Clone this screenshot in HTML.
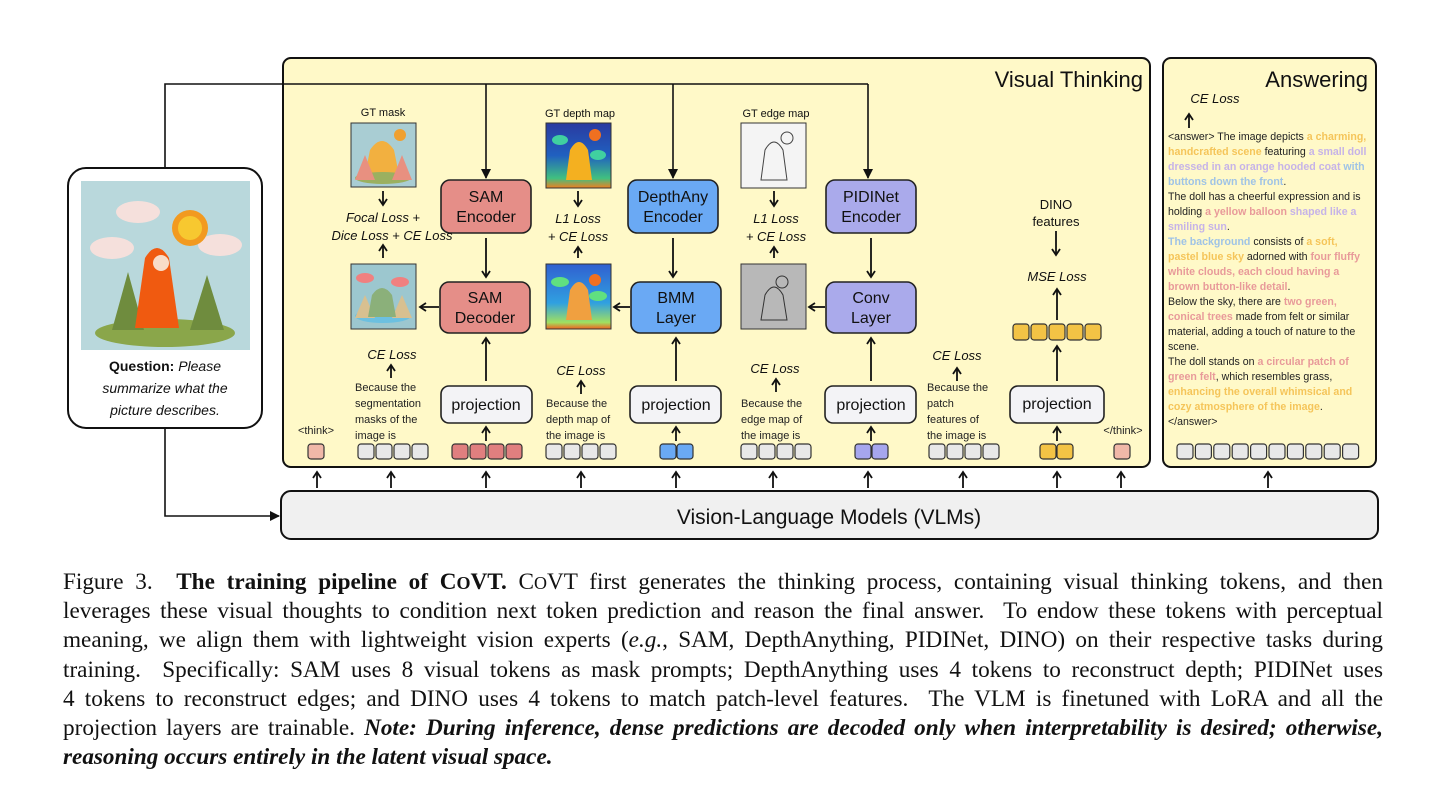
<!DOCTYPE html>
<html><head><meta charset="utf-8"><style>
body{margin:0;background:#fff;width:1434px;height:811px;overflow:hidden;position:relative;font-family:"Liberation Sans",sans-serif}
svg{position:absolute;left:0;top:0}
.cap{position:absolute;left:63px;width:1320px;top:568px;font-family:"Liberation Serif",serif;font-size:23.2px;line-height:29.2px;color:#111}
.cap div{text-align:justify;text-align-last:justify;height:29.2px;overflow:visible;white-space:normal}
.cap div.l{text-align-last:left}
</style></head><body>
<svg width="1434" height="560" viewBox="0 0 1434 560" font-family="Liberation Sans, sans-serif">
<defs>
<marker id="a" markerWidth="10" markerHeight="10" refX="7" refY="5" orient="auto" markerUnits="userSpaceOnUse"><path d="M1,1 L7,5 L1,9" fill="none" stroke="#111" stroke-width="1.8"/></marker>
<marker id="f" markerWidth="10" markerHeight="10" refX="9" refY="5" orient="auto" markerUnits="userSpaceOnUse"><path d="M0,0 L10,5 L0,10 z" fill="#111"/></marker>
<linearGradient id="dp" x1="0" y1="0" x2="0" y2="1"><stop offset="0" stop-color="#2a3aa0"/><stop offset=".5" stop-color="#2060c0"/><stop offset=".85" stop-color="#40c080"/><stop offset="1" stop-color="#f08020"/></linearGradient>
<linearGradient id="dp2" x1="0" y1="0" x2="0" y2="1"><stop offset="0" stop-color="#3060d0"/><stop offset=".6" stop-color="#30a0e0"/><stop offset=".9" stop-color="#a0e060"/><stop offset="1" stop-color="#f06020"/></linearGradient>
</defs>
<rect x="283" y="58" width="867" height="409" rx="8" fill="#fff9c8" stroke="#111" stroke-width="2"/>
<rect x="1163" y="58" width="213" height="409" rx="8" fill="#fff9c8" stroke="#111" stroke-width="2"/>
<rect x="281" y="491" width="1097" height="48" rx="10" fill="#f0f0f0" stroke="#111" stroke-width="2"/>
<text x="829" y="524" font-size="21" text-anchor="middle" fill="#111">Vision-Language Models (VLMs)</text>
<text x="1143" y="87" font-size="22" text-anchor="end" fill="#111">Visual Thinking</text>
<text x="1368" y="87" font-size="22" text-anchor="end" fill="#111">Answering</text>
<rect x="68" y="168" width="194" height="260" rx="18" fill="#fff" stroke="#111" stroke-width="2"/>
<rect x="81" y="181" width="169" height="169" fill="#b9d8dc"/>
<ellipse cx="165" cy="333" rx="70" ry="14" fill="#8aa64a"/>
<polygon points="112,330 128,272 144,330" fill="#6f8c3e"/>
<polygon points="190,330 207,275 224,330" fill="#6f8c3e"/>
<ellipse cx="138" cy="212" rx="22" ry="11" fill="#f5e0dc"/>
<ellipse cx="112" cy="248" rx="22" ry="11" fill="#f5e0dc"/>
<ellipse cx="220" cy="245" rx="22" ry="11" fill="#f5e0dc"/>
<circle cx="190" cy="228" r="18" fill="#f29a20"/><circle cx="190" cy="228" r="12" fill="#f7c830"/>
<path d="M145,258 q12,-20 24,0 l10,70 h-44 z" fill="#f05a10"/>
<circle cx="161" cy="263" r="8" fill="#f8dcc8"/>
<text x="165" y="371" font-size="14" text-anchor="middle" font-style="italic" fill="#111"><tspan font-weight="bold" font-style="normal">Question:</tspan> Please</text>
<text x="165" y="393" font-size="14" text-anchor="middle" font-style="italic" fill="#111">summarize what the</text>
<text x="165" y="415" font-size="14" text-anchor="middle" font-style="italic" fill="#111">picture describes.</text>
<path d="M165,168 V84 H868" fill="none" stroke="#111" stroke-width="1.6"/>
<path d="M486,84 V178" stroke="#111" stroke-width="1.6" marker-end="url(#f)"/>
<path d="M673,84 V178" stroke="#111" stroke-width="1.6" marker-end="url(#f)"/>
<path d="M868,84 V178" stroke="#111" stroke-width="1.6" marker-end="url(#f)"/>
<path d="M165,428 V516 H279" fill="none" stroke="#111" stroke-width="1.6" marker-end="url(#f)"/>
<g stroke="#222" stroke-width="1.6" font-size="16" text-anchor="middle" fill="#111">
<rect x="441" y="180" width="90" height="53" rx="9" fill="#e58e88"/>
<rect x="440" y="282" width="90" height="51" rx="9" fill="#e58e88"/>
<rect x="628" y="180" width="90" height="53" rx="9" fill="#6aa9f4"/>
<rect x="631" y="282" width="90" height="51" rx="9" fill="#6aa9f4"/>
<rect x="826" y="180" width="90" height="53" rx="9" fill="#aaaaeb"/>
<rect x="826" y="282" width="90" height="51" rx="9" fill="#aaaaeb"/>
<rect x="441" y="386" width="91" height="37" rx="8" fill="#f3f3f6"/>
<rect x="630" y="386" width="91" height="37" rx="8" fill="#f3f3f6"/>
<rect x="825" y="386" width="91" height="37" rx="8" fill="#f3f3f6"/>
<rect x="1010" y="386" width="94" height="37" rx="8" fill="#f3f3f6"/>
</g>
<g font-size="16" text-anchor="middle" fill="#111">
<text x="486" y="202">SAM</text><text x="486" y="222">Encoder</text>
<text x="485" y="303">SAM</text><text x="485" y="323">Decoder</text>
<text x="673" y="202">DepthAny</text><text x="673" y="222">Encoder</text>
<text x="676" y="303">BMM</text><text x="676" y="323">Layer</text>
<text x="871" y="202">PIDINet</text><text x="871" y="222">Encoder</text>
<text x="871" y="303">Conv</text><text x="871" y="323">Layer</text>
<text x="486" y="410">projection</text><text x="676" y="410">projection</text>
<text x="871" y="410">projection</text><text x="1057" y="409">projection</text>
</g>
<g stroke="#333" stroke-width="1">
<rect x="351" y="123" width="65" height="64" fill="#a9cdd3"/>
<rect x="351" y="264" width="65" height="65" fill="#9cc7cf"/>
<rect x="546" y="123" width="65" height="65" fill="url(#dp)"/>
<rect x="546" y="264" width="65" height="65" fill="url(#dp2)"/>
<rect x="741" y="123" width="65" height="65" fill="#f4f4f4"/>
<rect x="741" y="264" width="65" height="65" fill="#b8b8b8"/>
</g>
<g>
<path d="M370,150 q12,-18 24,0 l6,30 h-36 z" fill="#f2b040"/><ellipse cx="383" cy="178" rx="28" ry="6" fill="#9bb060"/>
<polygon points="355,180 365,155 375,180" fill="#e89080"/><polygon points="392,180 402,155 412,180" fill="#e89080"/>
<circle cx="400" cy="135" r="6" fill="#f0a030"/>
<ellipse cx="383" cy="316" rx="28" ry="7" fill="#6cc0e0"/>
<polygon points="355,318 365,295 375,318" fill="#d8c090"/><polygon points="392,318 402,295 412,318" fill="#d8c090"/>
<ellipse cx="365" cy="278" rx="9" ry="5" fill="#f08080"/><ellipse cx="400" cy="282" rx="9" ry="5" fill="#f08080"/>
<path d="M372,295 q10,-14 20,0 l4,22 h-28 z" fill="#8bb07a"/>
<path d="M570,150 q9,-16 18,0 l4,30 h-26 z" fill="#f4b020"/><circle cx="595" cy="135" r="6" fill="#f07020"/>
<ellipse cx="560" cy="140" rx="8" ry="5" fill="#40d0a0"/><ellipse cx="598" cy="155" rx="8" ry="5" fill="#40d0a0"/>
<path d="M570,290 q9,-16 18,0 l4,30 h-26 z" fill="#f0a040"/><circle cx="595" cy="280" r="6" fill="#f07020"/>
<ellipse cx="560" cy="282" rx="9" ry="5" fill="#60e080"/><ellipse cx="598" cy="296" rx="9" ry="5" fill="#60e080"/>
<path d="M765,150 q9,-16 18,0 l4,30 h-26 z" fill="none" stroke="#444"/><circle cx="787" cy="138" r="6" fill="none" stroke="#444"/>
<path d="M765,295 q9,-16 18,0 l4,25 h-26 z" fill="none" stroke="#333"/><circle cx="782" cy="282" r="6" fill="none" stroke="#333"/>
</g>
<g font-size="11" text-anchor="middle" fill="#111">
<text x="383" y="116">GT mask</text><text x="580" y="117">GT depth map</text><text x="776" y="117">GT  edge map</text>
</g>
<g stroke="#111" stroke-width="1.8" marker-end="url(#a)">
<path d="M383,191 V205"/><path d="M383,258 V245"/>
<path d="M578,191 V206"/><path d="M578,258 V247"/>
<path d="M774,191 V206"/><path d="M774,258 V247"/>
<path d="M486,238 V277"/><path d="M673,238 V277"/><path d="M871,238 V277"/>
<path d="M439,307 H420"/><path d="M630,307 H614"/><path d="M825,307 H809"/>
<path d="M486,381 V338"/><path d="M676,381 V338"/><path d="M871,381 V338"/>
<path d="M486,441 V427"/><path d="M676,441 V427"/><path d="M871,441 V427"/><path d="M1057,441 V427"/>
<path d="M1057,381 V346"/><path d="M1057,320 V289"/><path d="M1056,231 V255"/>
<path d="M391,378 V365"/><path d="M581,394 V381"/><path d="M776,392 V379"/><path d="M957,381 V368"/>
<path d="M1189,128 V114"/>
<path d="M317,488 V472"/><path d="M391,488 V472"/><path d="M486,488 V472"/><path d="M581,488 V472"/><path d="M676,488 V472"/><path d="M773,488 V472"/><path d="M868,488 V472"/><path d="M963,488 V472"/><path d="M1057,488 V472"/><path d="M1121,488 V472"/><path d="M1268,488 V472"/>
</g>
<g font-size="13" font-style="italic" text-anchor="middle" fill="#111">
<text x="383" y="222">Focal Loss +</text><text x="392" y="240">Dice Loss + CE Loss</text>
<text x="578" y="223">L1 Loss</text><text x="578" y="241">+ CE Loss</text>
<text x="776" y="223">L1 Loss</text><text x="776" y="241">+ CE Loss</text>
<text x="392" y="359">CE Loss</text><text x="581" y="375">CE Loss</text><text x="775" y="373">CE Loss</text><text x="957" y="360">CE Loss</text>
<text x="1057" y="281">MSE Loss</text><text x="1215" y="103">CE Loss</text>
</g>
<g font-size="13" text-anchor="middle" fill="#111"><text x="1056" y="209">DINO</text><text x="1056" y="226">features</text></g>
<g font-size="11" fill="#222">
<text x="355" y="391">Because the</text><text x="355" y="407">segmentation</text><text x="355" y="423">masks of the</text><text x="355" y="439">image is</text>
<text x="546" y="407">Because the</text><text x="546" y="423">depth map of</text><text x="546" y="439">the image is</text>
<text x="741" y="407">Because the</text><text x="741" y="423">edge map of</text><text x="741" y="439">the image is</text>
<text x="927" y="391">Because the</text><text x="927" y="407">patch</text><text x="927" y="423">features of</text><text x="927" y="439">the image is</text>
<text x="316" y="434" text-anchor="middle">&lt;think&gt;</text><text x="1123" y="434" text-anchor="middle">&lt;/think&gt;</text>
</g>
<g stroke="#333" stroke-width="1.2">
<rect x="308" y="444" width="16" height="15" rx="3" fill="#f0b8a8"/>
<rect x="358" y="444" width="16" height="15" rx="3" fill="#e8e8e8"/><rect x="376" y="444" width="16" height="15" rx="3" fill="#e8e8e8"/><rect x="394" y="444" width="16" height="15" rx="3" fill="#e8e8e8"/><rect x="412" y="444" width="16" height="15" rx="3" fill="#e8e8e8"/>
<rect x="452" y="444" width="16" height="15" rx="3" fill="#e07f7f"/><rect x="470" y="444" width="16" height="15" rx="3" fill="#e07f7f"/><rect x="488" y="444" width="16" height="15" rx="3" fill="#e07f7f"/><rect x="506" y="444" width="16" height="15" rx="3" fill="#e07f7f"/>
<rect x="546" y="444" width="16" height="15" rx="3" fill="#e8e8e8"/><rect x="564" y="444" width="16" height="15" rx="3" fill="#e8e8e8"/><rect x="582" y="444" width="16" height="15" rx="3" fill="#e8e8e8"/><rect x="600" y="444" width="16" height="15" rx="3" fill="#e8e8e8"/>
<rect x="660" y="444" width="16" height="15" rx="3" fill="#6aa9f4"/><rect x="677" y="444" width="16" height="15" rx="3" fill="#6aa9f4"/>
<rect x="741" y="444" width="16" height="15" rx="3" fill="#e8e8e8"/><rect x="759" y="444" width="16" height="15" rx="3" fill="#e8e8e8"/><rect x="777" y="444" width="16" height="15" rx="3" fill="#e8e8e8"/><rect x="795" y="444" width="16" height="15" rx="3" fill="#e8e8e8"/>
<rect x="855" y="444" width="16" height="15" rx="3" fill="#a6a6ee"/><rect x="872" y="444" width="16" height="15" rx="3" fill="#a6a6ee"/>
<rect x="929" y="444" width="16" height="15" rx="3" fill="#e8e8e8"/><rect x="947" y="444" width="16" height="15" rx="3" fill="#e8e8e8"/><rect x="965" y="444" width="16" height="15" rx="3" fill="#e8e8e8"/><rect x="983" y="444" width="16" height="15" rx="3" fill="#e8e8e8"/>
<rect x="1040" y="444" width="16" height="15" rx="3" fill="#f3c345"/><rect x="1057" y="444" width="16" height="15" rx="3" fill="#f3c345"/>
<rect x="1114" y="444" width="16" height="15" rx="3" fill="#f0b8a8"/>
<rect x="1013" y="324" width="16" height="16" rx="3" fill="#f3c345"/><rect x="1031" y="324" width="16" height="16" rx="3" fill="#f3c345"/><rect x="1049" y="324" width="16" height="16" rx="3" fill="#f3c345"/><rect x="1067" y="324" width="16" height="16" rx="3" fill="#f3c345"/><rect x="1085" y="324" width="16" height="16" rx="3" fill="#f3c345"/>
<rect x="1177" y="444" width="16" height="15" rx="3" fill="#e8e8e8"/><rect x="1195.4" y="444" width="16" height="15" rx="3" fill="#e8e8e8"/><rect x="1213.8" y="444" width="16" height="15" rx="3" fill="#e8e8e8"/><rect x="1232.2" y="444" width="16" height="15" rx="3" fill="#e8e8e8"/><rect x="1250.6" y="444" width="16" height="15" rx="3" fill="#e8e8e8"/><rect x="1269" y="444" width="16" height="15" rx="3" fill="#e8e8e8"/><rect x="1287.4" y="444" width="16" height="15" rx="3" fill="#e8e8e8"/><rect x="1305.8" y="444" width="16" height="15" rx="3" fill="#e8e8e8"/><rect x="1324.2" y="444" width="16" height="15" rx="3" fill="#e8e8e8"/><rect x="1342.6" y="444" width="16" height="15" rx="3" fill="#e8e8e8"/>
</g>
<g font-size="10.6" fill="#222">
<text x="1168" y="140">&lt;answer&gt; The image depicts <tspan fill="#f5c55a" font-weight="bold">a charming,</tspan></text>
<text x="1168" y="155"><tspan fill="#f5c55a" font-weight="bold">handcrafted scene</tspan> featuring <tspan fill="#c6b3e8" font-weight="bold">a small doll</tspan></text>
<text x="1168" y="170"><tspan fill="#c6b3e8" font-weight="bold">dressed in an orange hooded coat</tspan><tspan fill="#9fc3e6" font-weight="bold"> with</tspan></text>
<text x="1168" y="185"><tspan fill="#9fc3e6" font-weight="bold">buttons down the front</tspan>.</text>
<text x="1168" y="200">The doll has a cheerful expression and is</text>
<text x="1168" y="215">holding <tspan fill="#e89a9a" font-weight="bold">a yellow balloon</tspan><tspan fill="#c6b3e8" font-weight="bold"> shaped like a</tspan></text>
<text x="1168" y="230"><tspan fill="#c6b3e8" font-weight="bold">smiling sun</tspan>.</text>
<text x="1168" y="245"><tspan fill="#9fc3e6" font-weight="bold">The background</tspan> consists of <tspan fill="#f5c55a" font-weight="bold">a soft,</tspan></text>
<text x="1168" y="260"><tspan fill="#f5c55a" font-weight="bold">pastel blue sky</tspan> adorned with <tspan fill="#e89a9a" font-weight="bold">four fluffy</tspan></text>
<text x="1168" y="275"><tspan fill="#e89a9a" font-weight="bold">white clouds, each cloud having a</tspan></text>
<text x="1168" y="290"><tspan fill="#e89a9a" font-weight="bold">brown button-like detail</tspan>.</text>
<text x="1168" y="305">Below the sky, there are <tspan fill="#e89a9a" font-weight="bold">two green,</tspan></text>
<text x="1168" y="320"><tspan fill="#e89a9a" font-weight="bold">conical trees</tspan> made from felt or similar</text>
<text x="1168" y="335">material, adding a touch of nature to the</text>
<text x="1168" y="350">scene.</text>
<text x="1168" y="365">The doll stands on <tspan fill="#e89a9a" font-weight="bold">a circular patch of</tspan></text>
<text x="1168" y="380"><tspan fill="#e89a9a" font-weight="bold">green felt</tspan>, which resembles grass,</text>
<text x="1168" y="395"><tspan fill="#f5c55a" font-weight="bold">enhancing the overall whimsical and</tspan></text>
<text x="1168" y="410"><tspan fill="#f5c55a" font-weight="bold">cozy atmosphere of the image</tspan>.</text>
<text x="1168" y="425">&lt;/answer&gt;</text>
</g>
</svg>
<div class="cap">
<div>Figure 3.&nbsp; <b>The training pipeline of C<span style="font-size:18px">O</span>VT.</b> C<span style="font-size:18px">O</span>VT first generates the thinking process, containing visual thinking tokens, and then</div>
<div>leverages these visual thoughts to condition next token prediction and reason the final answer.&nbsp; To endow these tokens with perceptual</div>
<div>meaning, we align them with lightweight vision experts (<i>e.g.</i>, SAM, DepthAnything, PIDINet, DINO) on their respective tasks during</div>
<div>training.&nbsp; Specifically: SAM uses 8 visual tokens as mask prompts; DepthAnything uses 4 tokens to reconstruct depth; PIDINet uses</div>
<div>4 tokens to reconstruct edges; and DINO uses 4 tokens to match patch-level features.&nbsp; The VLM is finetuned with LoRA and all the</div>
<div>projection layers are trainable. <b><i>Note: During inference, dense predictions are decoded only when interpretability is desired; otherwise,</i></b></div>
<div class="l"><b><i>reasoning occurs entirely in the latent visual space.</i></b></div>
</div>
</body></html>
